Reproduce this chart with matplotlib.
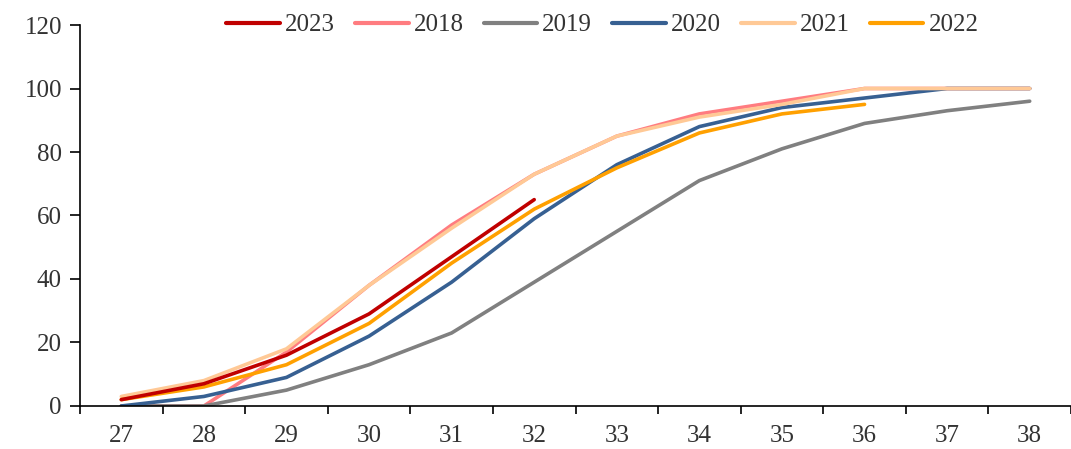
import glob
import matplotlib
matplotlib.use("Agg")
import matplotlib.pyplot as plt
from matplotlib import font_manager

# week numbers on the category axis
weeks = ["27", "28", "29", "30", "31", "32", "33", "34", "35", "36", "37", "38"]

# cumulative progress (%) per year
y2023 = [2, 7, 16, 29, 47, 65]
y2018 = [0, 0, 17, 38, 57, 73, 85, 92, 96, 100, 100, 100]
y2019 = [0, 0, 5, 13, 23, 39, 55, 71, 81, 89, 93, 96]
y2020 = [0, 3, 9, 22, 39, 59, 76, 88, 94, 97, 100, 100]
y2021 = [3, 8, 18, 38, 56, 73, 85, 91, 95, 100, 100, 100]
y2022 = [2, 6, 13, 26, 45, 62, 75, 86, 92, 95]

# find a Times-like serif font file (Liberation Serif) and register it
serif = 'DejaVu Serif'
for pat in ['/usr/share/fonts/**/LiberationSerif-Regular*.ttf',
            '/usr/share/fonts/**/Tinos-Regular*.ttf',
            '/usr/share/fonts/**/*Times*.ttf',
            '/usr/local/share/fonts/**/LiberationSerif-Regular*.ttf',
            '/usr/share/fonts/**/NotoSerif-Regular*.ttf']:
    hits = glob.glob(pat, recursive=True)
    if hits:
        font_manager.fontManager.addfont(hits[0])
        serif = font_manager.FontProperties(fname=hits[0]).get_name()
        break
else:
    for f in font_manager.fontManager.ttflist:
        if 'Liberation Serif' in f.name or 'Times' in f.name:
            serif = f.name
            break

plt.rcParams['font.family'] = [serif, 'DejaVu Serif']

fig = plt.figure(figsize=(10.71, 4.49), dpi=100)
ax = fig.add_axes([0.0747, 0.0958, 0.9253, 0.8485])

lw = 2.6
x = list(range(len(weeks)))
l18, = ax.plot(x[:len(y2018)], y2018, color='#FF7C80', lw=lw, label='2018', solid_capstyle='round')
l19, = ax.plot(x[:len(y2019)], y2019, color='#808080', lw=lw, label='2019', solid_capstyle='round')
l20, = ax.plot(x[:len(y2020)], y2020, color='#376092', lw=lw, label='2020', solid_capstyle='round')
l21, = ax.plot(x[:len(y2021)], y2021, color='#FFC996', lw=lw, label='2021', solid_capstyle='round')
l22, = ax.plot(x[:len(y2022)], y2022, color='#FFA000', lw=lw, label='2022', solid_capstyle='round')
l23, = ax.plot(x[:len(y2023)], y2023, color='#C00000', lw=lw, label='2023', solid_capstyle='round')

ax.set_xlim(-0.5, len(weeks) - 0.5)
ax.set_ylim(0, 120)
ax.set_yticks(range(0, 121, 20))
ax.set_xticks([i - 0.5 for i in range(len(weeks) + 1)], minor=False)
ax.set_xticklabels([])
ax.set_xticks(x, minor=True)
ax.set_xticklabels(weeks, minor=True)
ax.tick_params(axis='x', which='minor', length=0, pad=14, labelsize=18, colors='#333333')
ax.tick_params(axis='x', which='major', length=6, width=1.2, direction='out')
ax.tick_params(axis='y', length=7, width=1.2, direction='out', labelsize=18,
               labelcolor='#333333', pad=6)

for s in ['top', 'right']:
    ax.spines[s].set_visible(False)
ax.spines['left'].set_linewidth(1.2)
ax.spines['bottom'].set_linewidth(1.2)

leg = ax.legend(handles=[l23, l18, l19, l20, l21, l22], loc='center',
                bbox_to_anchor=(0.527, 1.0), ncol=6, frameon=False,
                fontsize=18, handlelength=2.15, handletextpad=0.2,
                columnspacing=0.8, labelcolor='#333333')
for h in leg.get_lines():
    h.set_linewidth(3.0)

fig.savefig('out.png', dpi=100)
